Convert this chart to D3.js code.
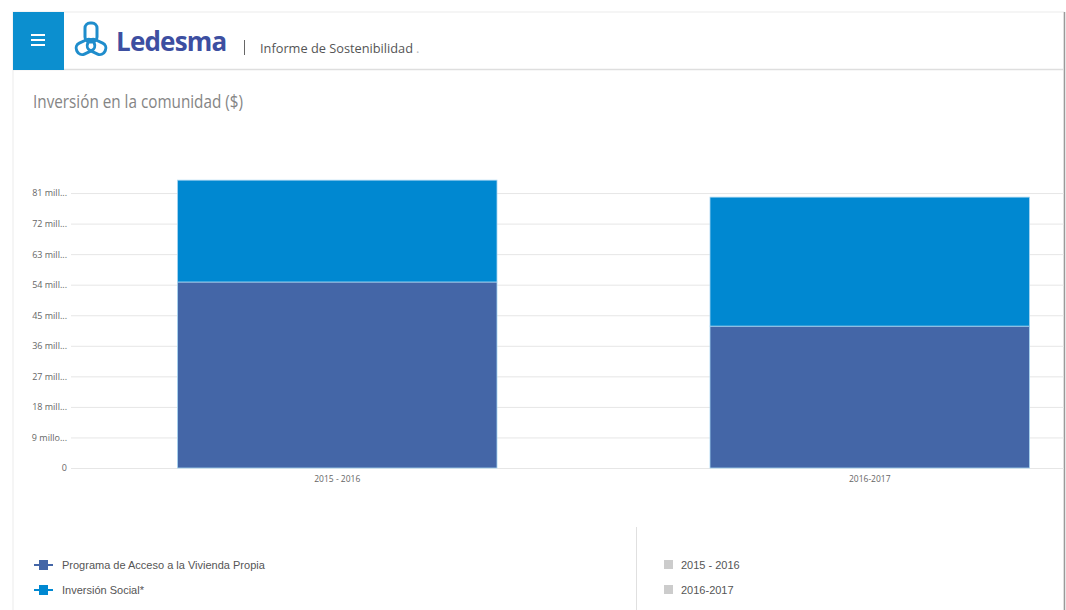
<!DOCTYPE html>
<html>
<head>
<meta charset="utf-8">
<script src="https://cdn.jsdelivr.net/npm/d3@7"></script>
<style>
  html, body { margin: 0; padding: 0; background: #ffffff; }
  svg { display: block; }
</style>
</head>
<body>
<svg id="chart" width="1066" height="610"></svg>
<script>
// ---- data ----
const categories = ["2015 - 2016", "2016-2017"];
const seriesNames = ["Programa de Acceso a la Vivienda Propia", "Inversión Social*"];
const viviendaValues = [54.8e6, 41.8e6];
const socialValues = [30.0e6, 38.0e6];
const tickValues = [0, 9e6, 18e6, 27e6, 36e6, 45e6, 54e6, 63e6, 72e6, 81e6];
const tickLabels = ["0", "9 millo...", "18 mill...", "27 mill...", "36 mill...", "45 mill...", "54 mill...", "63 mill...", "72 mill...", "81 mill..."];
const title = "Inversión en la comunidad ($)";
const colors = ["#4466a7", "#0088d1"];

const svg = d3.select("#chart");

// ---- page frame ----
svg.append("rect").attr("x", 13).attr("y", 12).attr("width", 1051).attr("height", 610)
  .attr("fill", "#fff").attr("stroke", "#ececec");
svg.append("line").attr("x1", 1064.5).attr("x2", 1064.5).attr("y1", 12).attr("y2", 610)
  .attr("stroke", "#9a9a9a").attr("stroke-width", 1.5);
svg.append("line").attr("x1", 13).attr("x2", 1064).attr("y1", 69.5).attr("y2", 69.5)
  .attr("stroke", "#dedede").attr("stroke-width", 1.5);

// header: menu button
svg.append("rect").attr("x", 13).attr("y", 12).attr("width", 51).attr("height", 58).attr("fill", "#0c8fcf");
[-5, 0, 5].forEach(d => {
  svg.append("rect").attr("x", 31).attr("y", 39 + d).attr("width", 14).attr("height", 2).attr("fill", "#fff");
});

// logo icon (approximation of knot)
const logo = svg.append("g").attr("transform", "translate(91,41)")
  .attr("fill", "none").attr("stroke", "#1f8dcc").attr("stroke-width", 3).attr("stroke-linejoin", "round");
logo.append("rect").attr("x", -6).attr("y", -18).attr("width", 12).attr("height", 19).attr("rx", 5);
logo.append("rect").attr("x", -17).attr("y", -3).attr("width", 19).attr("height", 12).attr("rx", 5.5)
  .attr("transform", "rotate(-25)");
logo.append("rect").attr("x", -2).attr("y", -3).attr("width", 19).attr("height", 12).attr("rx", 5.5)
  .attr("transform", "rotate(25)");

svg.append("text").attr("x", 116).attr("y", 51).text("Ledesma")
  .attr("font-family", "'Open Sans', sans-serif").attr("font-weight", 700).attr("font-size", 26)
  .attr("fill", "#3d4fa1").attr("letter-spacing", -0.8);
svg.append("line").attr("x1", 244.5).attr("x2", 244.5).attr("y1", 40).attr("y2", 55)
  .attr("stroke", "#666").attr("stroke-width", 1);
svg.append("text").attr("x", 260).attr("y", 53).text("Informe de Sostenibilidad")
  .attr("font-family", "'Open Sans', sans-serif").attr("font-size", 13)
  .attr("fill", "#555").attr("textLength", 153).attr("lengthAdjust", "spacingAndGlyphs");
svg.append("text").attr("x", 416).attr("y", 53).text(".")
  .attr("font-family", "'Open Sans', sans-serif").attr("font-size", 13).attr("fill", "#bbb");

// title
svg.append("text").attr("x", 33).attr("y", 108).text(title)
  .attr("font-family", "'Liberation Sans Narrow', 'Open Sans', sans-serif").attr("font-size", 18)
  .attr("fill", "#858585").attr("textLength", 210).attr("lengthAdjust", "spacingAndGlyphs");

// ---- scales ----
const x = d3.scaleBand().domain(categories).range([71, 1136]).paddingInner(0.4).paddingOuter(0.2);
const y = d3.scaleLinear().domain([0, 90e6]).range([468, 162.5]);

// grid
const grid = svg.append("g").attr("transform", "translate(71,0)")
  .call(d3.axisLeft(y).tickValues(tickValues).tickSize(-993).tickFormat(""));
grid.select(".domain").remove();
grid.selectAll(".tick line").attr("stroke", "#e6e6e6");

// y labels
const yAxis = svg.append("g").attr("transform", "translate(67,0)")
  .call(d3.axisLeft(y).tickValues(tickValues).tickSize(0).tickPadding(0)
    .tickFormat((d, i) => tickLabels[i]));
yAxis.select(".domain").remove();
yAxis.selectAll("text").attr("font-family", "'Open Sans', sans-serif").attr("font-size", 9).attr("fill", "#666");

// stacked bars
const rows = categories.map((c, i) => ({ cat: c, v: viviendaValues[i], s: socialValues[i] }));
const stack = d3.stack().keys(["v", "s"])(rows);
svg.append("clipPath").attr("id", "clip").append("rect")
  .attr("x", 0).attr("y", 0).attr("width", 1064).attr("height", 610);
svg.append("g").attr("clip-path", "url(#clip)").selectAll("g").data(stack).join("g")
  .attr("fill", (d, i) => colors[i])
  .selectAll("rect").data(d => d).join("rect")
  .attr("x", d => x(d.data.cat))
  .attr("y", d => y(d[1]))
  .attr("width", x.bandwidth())
  .attr("height", d => y(d[0]) - y(d[1]))
  .attr("stroke", "#a9d6f2").attr("stroke-width", 0.8);

// x labels
const xAxis = svg.append("g").attr("transform", "translate(0,476)")
  .call(d3.axisBottom(x).tickSize(0).tickPadding(0));
xAxis.select(".domain").remove();
xAxis.selectAll("text").attr("font-family", "'Open Sans', sans-serif").attr("font-size", 8.5)
  .attr("fill", "#666").attr("dy", "0.71em");

// ---- legends ----
svg.append("line").attr("x1", 636.5).attr("x2", 636.5).attr("y1", 527).attr("y2", 610)
  .attr("stroke", "#e0e0e0").attr("stroke-width", 1);

const leg = svg.append("g").selectAll("g").data(seriesNames).join("g")
  .attr("transform", (d, i) => `translate(34,${565 + i * 25})`);
leg.append("line").attr("x1", 0).attr("x2", 19).attr("y1", 0).attr("y2", 0)
  .attr("stroke", (d, i) => colors[i]).attr("stroke-width", 2);
leg.append("rect").attr("x", 5).attr("y", -5).attr("width", 9).attr("height", 10)
  .attr("fill", (d, i) => colors[i]);
leg.append("text").attr("x", 28).attr("y", 4).text(d => d)
  .attr("font-family", "'Liberation Sans', Arial, sans-serif").attr("font-size", 11).attr("fill", "#555");

const leg2 = svg.append("g").selectAll("g").data(categories).join("g")
  .attr("transform", (d, i) => `translate(664,${565 + i * 25})`);
leg2.append("rect").attr("x", 0).attr("y", -5).attr("width", 9).attr("height", 9).attr("fill", "#cccccc");
leg2.append("text").attr("x", 17).attr("y", 4).text(d => d)
  .attr("font-family", "'Liberation Sans', Arial, sans-serif").attr("font-size", 11).attr("fill", "#555");
</script>
</body>
</html>
